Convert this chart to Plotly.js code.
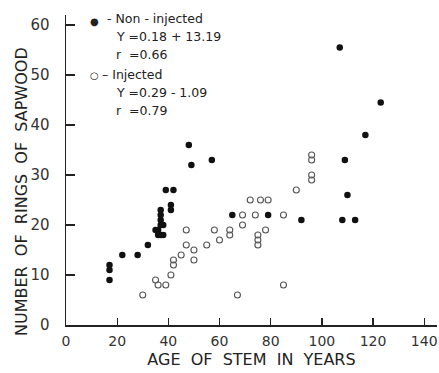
<!DOCTYPE html>
<html>
<head>
<meta charset="utf-8">
<script src="https://cdn.plot.ly/plotly-3.0.1.min.js"></script>
<style>html,body{margin:0;padding:0;background:#fff;}#chart{width:439px;height:373px;}</style>
</head>
<body>
<div id="chart"></div>
<script>
// Non-injected stems (filled dots)
var nonAge   = [17,17,17,22,28,32,35,36,36,37,38,37,38,37,37,37,39,42,41,41,48,49,57,65,79,92,107,108,109,110,113,117,123];
var nonRings = [12,11,9,14,14,16,19,19,18,18,18,20,20,21,22,23,27,27,24,23,36,32,33,22,22,21,55.5,21,33,26,21,38,44.5];
// Injected stems (open circles)
var injAge   = [30,35,36,39,41,42,42,45,47,47,50,50,55,58,60,64,64,67,69,69,72,74,75,75,75,76,78,79,85,85,90,96,96,96,96];
var injRings = [6,9,8,8,10,13,12,14,19,16,15,13,16,19,17,19,18,6,22,20,25,22,18,17,16,25,19,25,22,8,27,34,33,30,29];

var xTicks = [0,20,40,60,80,100,120,140];
var yTicks = [0,10,20,30,40,50,60];

var legendLines = [
  {x: 8.8, y: 60.8, t: '\u25CF', s: 10},
  {x: 15.5, y: 61.4, t: '- Non - injected', s: 12.5},
  {x: 19.3, y: 57.8, t: 'Y =0.18 + 13.19', s: 12.5},
  {x: 19.3, y: 54.1, t: 'r  =0.66', s: 12.5},
  {x: 8.8, y: 50.0, t: '\u25CB', s: 10},
  {x: 13.5, y: 50.2, t: '\u2013 Injected', s: 12.5},
  {x: 19.3, y: 46.6, t: 'Y =0.29 - 1.09', s: 12.5},
  {x: 19.3, y: 43.0, t: 'r  =0.79', s: 12.5}
];

var fontFam = 'DejaVu Sans, sans-serif';
var ink = '#222';

var traces = [
  {x: injAge, y: injRings, type: 'scatter', mode: 'markers', name: 'Injected',
   marker: {symbol: 'circle-open', size: 6, color: '#555', line: {width: 1.1, color: '#555'}}},
  {x: nonAge, y: nonRings, type: 'scatter', mode: 'markers', name: 'Non-injected',
   marker: {symbol: 'circle', size: 6.5, color: '#111'}}
];

var annotations = legendLines.map(function(l){
  return {x: l.x, y: l.y, xref: 'x', yref: 'y', text: l.t, showarrow: false, borderpad: 0,
          xanchor: 'left', yanchor: 'middle', font: {family: fontFam, size: l.s, color: ink}};
});
annotations.push({
  x: (21 - 66) / (439 - 66 - 2), y: (373 - 48 - 192) / (373 - 15 - 48),
  xref: 'paper', yref: 'paper', xanchor: 'center', yanchor: 'middle',
  text: 'NUMBER  OF  RINGS  OF  SAPWOOD', textangle: -90, showarrow: false,
  font: {family: fontFam, size: 16, color: ink}});

var layout = {
  width: 439, height: 373,
  margin: {l: 66, r: 2, t: 15, b: 48},
  paper_bgcolor: '#fff', plot_bgcolor: '#fff',
  showlegend: false,
  font: {family: fontFam, color: ink},
  xaxis: {range: [0, 145], tickvals: xTicks, ticktext: xTicks.map(String),
          ticks: 'inside', ticklen: 7, tickwidth: 1.3, tickcolor: ink,
          showline: true, linecolor: ink, linewidth: 1.5, showgrid: false, zeroline: false,
          tickfont: {family: fontFam, size: 14, color: '#333'}, ticklabelstandoff: 3,
          title: {text: 'AGE  OF  STEM  IN  YEARS', font: {family: fontFam, size: 16, color: ink}, standoff: 5}},
  yaxis: {range: [0, 62], tickvals: yTicks, ticktext: yTicks.map(String),
          ticks: 'inside', ticklen: 9, tickwidth: 1.3, tickcolor: ink,
          showline: true, linecolor: ink, linewidth: 1.5, showgrid: false, zeroline: false,
          tickfont: {family: fontFam, size: 15, color: '#333'}, ticklabelstandoff: 12},
  annotations: annotations
};

Plotly.newPlot('chart', traces, layout, {staticPlot: true, displayModeBar: false});
</script>
</body>
</html>
